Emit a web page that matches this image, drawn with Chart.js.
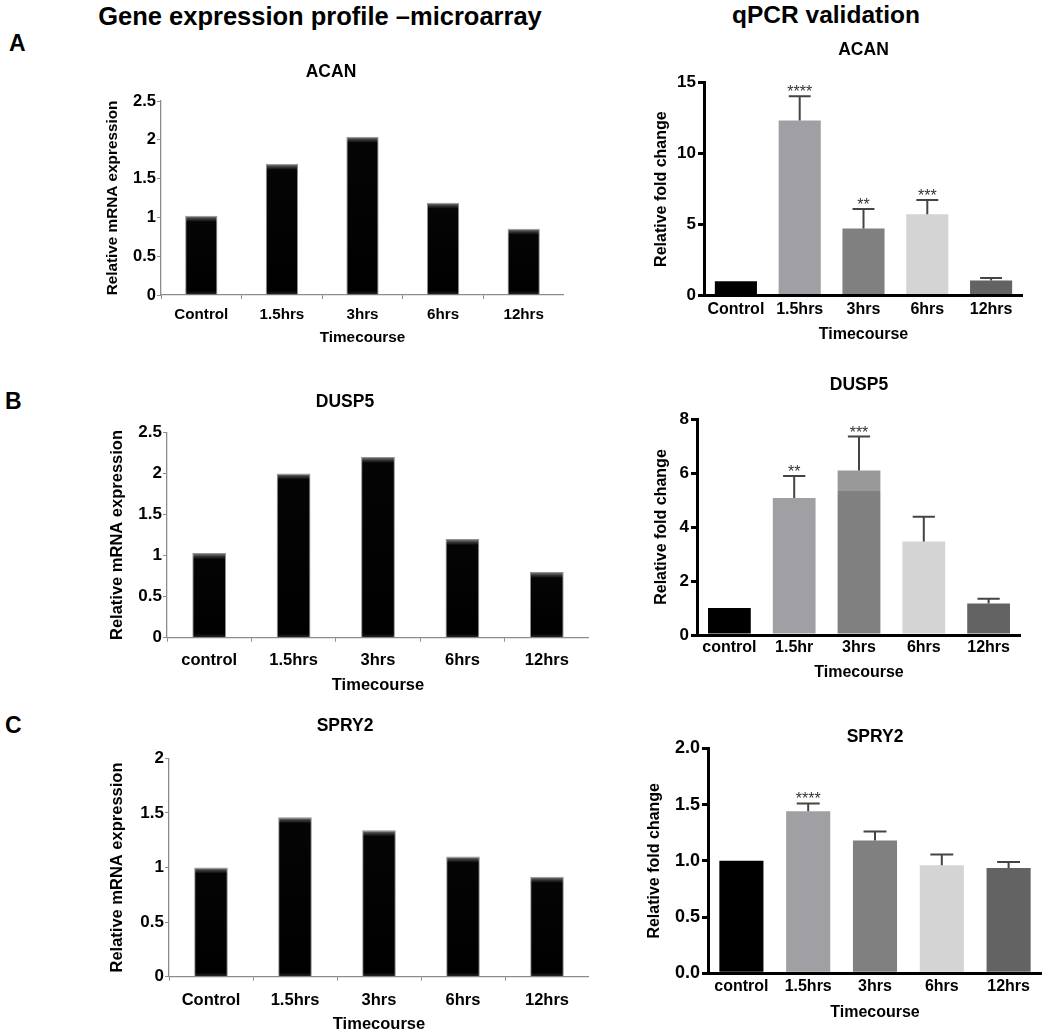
<!DOCTYPE html>
<html><head><meta charset="utf-8">
<script src="https://cdn.jsdelivr.net/npm/chart.js@4.4.1/dist/chart.umd.min.js"></script>
<style>
html,body{margin:0;padding:0;background:#fff;overflow:hidden}
#page{position:relative;width:1050px;height:1036px;background:#fff;font-family:'Liberation Sans',Arial,Helvetica,sans-serif}
.hdr{position:absolute;font-weight:bold;line-height:30px;white-space:nowrap;text-align:center;color:#000}
.lt{position:absolute;font-weight:bold;font-size:23px;line-height:26px;color:#000}
canvas{position:absolute}
</style></head>
<body><div id="page">
<div class="hdr" style="left:70px;width:500px;top:1px;font-size:25.5px">Gene expression profile –microarray</div>
<div class="hdr" style="left:676px;width:300px;top:0px;font-size:24.5px">qPCR validation</div>
<div class="lt" style="left:9px;top:30px">A</div>
<div class="lt" style="left:5px;top:388px">B</div>
<div class="lt" style="left:5px;top:712px">C</div>
<canvas id="mA"></canvas><canvas id="qA"></canvas>
<canvas id="mB"></canvas><canvas id="qB"></canvas>
<canvas id="mC"></canvas><canvas id="qC"></canvas>
</div>
<script>
// ---------- DATA ----------
const microLabelsA = ['Control', '1.5hrs', '3hrs', '6hrs', '12hrs'];
const microLabelsB = ['control', '1.5hrs', '3hrs', '6hrs', '12hrs'];
const microLabelsC = ['Control', '1.5hrs', '3hrs', '6hrs', '12hrs'];
const qpcrLabelsA = ['Control', '1.5hrs', '3hrs', '6hrs', '12hrs'];
const qpcrLabelsB = ['control', '1.5hr', '3hrs', '6hrs', '12hrs'];
const qpcrLabelsC = ['control', '1.5hrs', '3hrs', '6hrs', '12hrs'];

const acanMicro  = [1.02, 1.69, 2.04, 1.19, 0.855];
const dusp5Micro = [1.03, 2.00, 2.20, 1.20, 0.80];
const spry2Micro = [1.00, 1.46, 1.34, 1.10, 0.915];

const acanQpcr     = [1.00, 12.33, 4.73, 5.72, 1.05];
const acanQpcrErr  = [0, 1.71, 1.37, 1.01, 0.19];
const acanStars    = ['', '****', '**', '***', ''];
const dusp5Qpcr    = [1.00, 5.07, 6.09, 3.46, 1.17];
const dusp5QpcrErr = [0, 0.82, 1.26, 0.92, 0.17];
const dusp5Stars   = ['', '**', '***', '', ''];
const dusp5LowerShadeTop = [null, null, 5.32, null, null];
const spry2Qpcr    = [1.00, 1.44, 1.18, 0.96, 0.936];
const spry2QpcrErr = [0, 0.07, 0.08, 0.095, 0.054];
const spry2Stars   = ['', '****', '', '', ''];

const microTicksAB = [0, 0.5, 1, 1.5, 2, 2.5];
const microTickLabelsAB = ['0', '0.5', '1', '1.5', '2', '2.5'];
const microTicksC = [0, 0.5, 1, 1.5, 2];
const microTickLabelsC = ['0', '0.5', '1', '1.5', '2'];
const qpcrTicksA = [0, 5, 10, 15];
const qpcrTickLabelsA = ['0', '5', '10', '15'];
const qpcrTicksB = [0, 2, 4, 6, 8];
const qpcrTickLabelsB = ['0', '2', '4', '6', '8'];
const qpcrTicksC = [0, 0.5, 1, 1.5, 2];
const qpcrTickLabelsC = ['0.0', '0.5', '1.0', '1.5', '2.0'];

const qpcrColors = ['#000000', '#a0a0a4', '#808080', '#d4d4d4', '#636363'];

// ---------- STYLE / LAYOUT ----------
const FONT = "'Liberation Sans', Arial, Helvetica, sans-serif";
Chart.defaults.font.family = FONT;
Chart.defaults.color = '#000';

function geom(s) {
  const TL = s.titleSize * 1.2, AL = s.axisTitleSize * 1.2, CL = s.catSize * 1.2;
  const left = Math.round(s.plotL - s.yw);
  const yw = s.plotL - left;
  const top = Math.floor(s.titleY - TL / 2 - 4);
  const width = Math.round(s.plotR - left);
  const height = Math.round(s.plotB + s.xh - top);
  const xh = top + height - s.plotB;
  return {
    left, top, width, height, yw, xh,
    tPadTop: s.titleY - TL / 2 - top,
    tPadBottom: s.plotT - top - (s.titleY - TL / 2 - top) - TL,
    yTitlePad: s.yTitleX - left - AL / 2,
    xTickPad: s.xLabelY - s.plotB - s.tl - CL / 2,
    xTitlePad: top + height - s.xTitleY - AL / 2
  };
}

function bevel(ctx) {
  const chart = ctx.chart;
  const ys = chart.scales && chart.scales.y;
  if (!chart.chartArea || !ys || ctx.type !== 'data') return '#000';
  const top = ys.getPixelForValue(ctx.raw), bot = ys.getPixelForValue(0);
  const h = Math.max(bot - top, 1);
  const g = chart.ctx.createLinearGradient(0, top, 0, bot);
  const a = Math.min(0.45, 6 / h), b = Math.max(0.55, 1 - 4 / h);
  g.addColorStop(0, '#8a8a8a');
  g.addColorStop(a * 0.5, '#3a3a3a');
  g.addColorStop(a, '#050505');
  g.addColorStop(b, '#000000');
  g.addColorStop(1, '#2e2e2e');
  return g;
}

const errPlugin = {
  id: 'errbars',
  afterDatasetsDraw(chart, args, opts) {
    if (!opts || !opts.errors) return;
    const meta = chart.getDatasetMeta(0), ys = chart.scales.y, c = chart.ctx;
    const vals = chart.data.datasets[0].data;
    c.save();
    meta.data.forEach((bar, i) => {
      const e = opts.errors[i];
      let yTop = bar.y;
      if (e > 0) {
        yTop = ys.getPixelForValue(vals[i] + e);
        const half = bar.width * 0.26;
        c.strokeStyle = '#444'; c.lineWidth = 2;
        c.beginPath();
        c.moveTo(bar.x, bar.y); c.lineTo(bar.x, yTop);
        c.moveTo(bar.x - half, yTop); c.lineTo(bar.x + half, yTop);
        c.stroke();
      }
      if (opts.stars && opts.stars[i]) {
        c.fillStyle = '#333'; c.font = '16px ' + FONT;
        c.textAlign = 'center'; c.textBaseline = 'alphabetic';
        c.fillText(opts.stars[i], bar.x, yTop + 1);
      }
    });
    c.restore();
  }
};

function makeChart(id, s, kind, title, labels, values, tickVals, tickLabels, extra) {
  const g = geom(s);
  const cv = document.getElementById(id);
  cv.width = g.width; cv.height = g.height;
  cv.style.left = g.left + 'px'; cv.style.top = g.top + 'px';
  const micro = kind === 'micro';
  const axisCol = micro ? '#8c8c8c' : '#000';
  const ds = micro ? {
    data: values, backgroundColor: bevel, borderColor: '#909090', borderWidth: 1,
    barPercentage: 0.4, categoryPercentage: 1.0
  } : {
    data: values,
    backgroundColor: (ctx) => {
      const i = ctx.dataIndex;
      const shade = extra.shade && extra.shade[i];
      const chart = ctx.chart;
      if (shade != null && chart.chartArea && chart.scales.y) {
        const ys = chart.scales.y;
        const top = ys.getPixelForValue(values[i]), bot = ys.getPixelForValue(0), mid = ys.getPixelForValue(shade);
        const gr = chart.ctx.createLinearGradient(0, top, 0, bot);
        const f = (mid - top) / (bot - top);
        gr.addColorStop(0, '#999999'); gr.addColorStop(f, '#999999');
        gr.addColorStop(f, '#808080'); gr.addColorStop(1, '#808080');
        return gr;
      }
      return qpcrColors[i];
    },
    borderWidth: 0, barPercentage: 0.66, categoryPercentage: 1.0
  };
  return new Chart(cv, {
    type: 'bar',
    data: { labels: labels, datasets: [ds] },
    plugins: micro ? [] : [errPlugin],
    options: {
      responsive: false, animation: false, devicePixelRatio: 1,
      layout: { padding: 0, autoPadding: false },
      plugins: {
        legend: { display: false }, tooltip: { enabled: false },
        title: {
          display: true, text: title, fullSize: micro, color: '#000',
          font: { size: s.titleSize, weight: 'bold', lineHeight: 1.2 },
          padding: { top: g.tPadTop, bottom: g.tPadBottom }
        },
        errbars: micro ? {} : { errors: extra.errors, stars: extra.stars }
      },
      scales: {
        x: {
          afterFit: (sc) => { sc.height = g.xh; },
          grid: micro ? { display: true, drawOnChartArea: false, drawTicks: true, tickLength: s.tl, color: axisCol, lineWidth: 1 }
                      : { display: false, drawTicks: false, tickLength: 0 },
          border: { display: true, color: axisCol, width: micro ? 1.3 : 3 },
          ticks: { padding: g.xTickPad, color: '#000', font: { size: s.catSize, weight: 'bold' }, maxRotation: 0, autoSkip: false },
          title: { display: true, text: 'Timecourse', color: '#000', font: { size: s.axisTitleSize, weight: 'bold', lineHeight: 1.2 }, padding: { top: 0, bottom: g.xTitlePad } }
        },
        y: {
          min: tickVals[0], max: tickVals[tickVals.length - 1],
          afterFit: (sc) => { sc.width = g.yw; },
          afterBuildTicks: (sc) => { sc.ticks = tickVals.map(v => ({ value: v })); },
          grid: { display: true, drawOnChartArea: false, drawTicks: true, tickLength: micro ? 4 : 6, color: axisCol, lineWidth: micro ? 1 : 3 },
          border: { display: true, color: axisCol, width: micro ? 1.3 : 3 },
          ticks: { padding: micro ? 1 : 2, color: '#000', font: { size: s.tickSize, weight: 'bold' }, callback: (v, i) => tickLabels[i] },
          title: { display: true, text: micro ? 'Relative mRNA expression' : 'Relative fold change', color: '#000', font: { size: s.axisTitleSize, weight: 'bold', lineHeight: 1.2 }, padding: { top: g.yTitlePad, bottom: 0 } }
        }
      }
    }
  });
}

const specMA = { plotL: 161, plotT: 101, plotR: 564, plotB: 295, yw: 63, titleY: 72, titleSize: 17.5, yTitleX: 113, axisTitleSize: 15.3, tickSize: 16.5, catSize: 15.2, xLabelY: 315, xTitleY: 338, xh: 55, tl: 4 };
const specMB = { plotL: 167, plotT: 432.3, plotR: 589, plotB: 637.7, yw: 66, titleY: 401.7, titleSize: 17.5, yTitleX: 117, axisTitleSize: 16.5, tickSize: 17, catSize: 16.5, xLabelY: 660, xTitleY: 685, xh: 60, tl: 4 };
const specMC = { plotL: 169, plotT: 758.3, plotR: 589, plotB: 976.7, yw: 68, titleY: 726, titleSize: 17.5, yTitleX: 117, axisTitleSize: 16.5, tickSize: 17, catSize: 16.5, xLabelY: 1000, xTitleY: 1024, xh: 57, tl: 4 };
const specQA = { plotL: 704, plotT: 82.7, plotR: 1023, plotB: 295.5, yw: 60, titleY: 50, titleSize: 17.5, yTitleX: 662, axisTitleSize: 16, tickSize: 17, catSize: 16, xLabelY: 310, xTitleY: 335, xh: 50, tl: 0 };
const specQB = { plotL: 697, plotT: 419, plotR: 1021, plotB: 635, yw: 60, titleY: 385, titleSize: 17.5, yTitleX: 662, axisTitleSize: 16, tickSize: 17, catSize: 16, xLabelY: 648, xTitleY: 673, xh: 48, tl: 0 };
const specQC = { plotL: 708, plotT: 748.3, plotR: 1042, plotB: 973.3, yw: 70, titleY: 736.7, titleSize: 17.5, yTitleX: 655, axisTitleSize: 16, tickSize: 18, catSize: 16, xLabelY: 987, xTitleY: 1013, xh: 50, tl: 0 };

makeChart('mA', specMA, 'micro', 'ACAN', microLabelsA, acanMicro, microTicksAB, microTickLabelsAB);
makeChart('mB', specMB, 'micro', 'DUSP5', microLabelsB, dusp5Micro, microTicksAB, microTickLabelsAB);
makeChart('mC', specMC, 'micro', 'SPRY2', microLabelsC, spry2Micro, microTicksC, microTickLabelsC);
makeChart('qA', specQA, 'qpcr', 'ACAN', qpcrLabelsA, acanQpcr, qpcrTicksA, qpcrTickLabelsA, { errors: acanQpcrErr, stars: acanStars });
makeChart('qB', specQB, 'qpcr', 'DUSP5', qpcrLabelsB, dusp5Qpcr, qpcrTicksB, qpcrTickLabelsB, { errors: dusp5QpcrErr, stars: dusp5Stars, shade: dusp5LowerShadeTop });
makeChart('qC', specQC, 'qpcr', 'SPRY2', qpcrLabelsC, spry2Qpcr, qpcrTicksC, qpcrTickLabelsC, { errors: spry2QpcrErr, stars: spry2Stars });
</script>
</body></html>
